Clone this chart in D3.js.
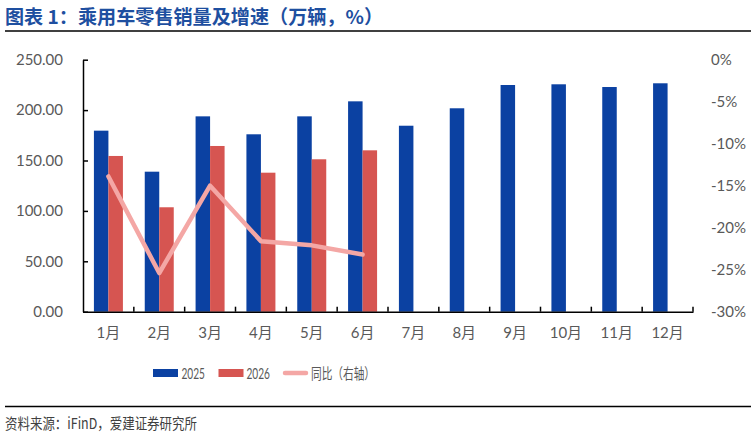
<!DOCTYPE html>
<html>
<head>
<meta charset="utf-8">
<script src="https://cdn.jsdelivr.net/npm/d3@7/dist/d3.min.js"></script>
<style>
  html, body { margin: 0; padding: 0; background: #fff; }
  svg { display: block; }
</style>
</head>
<body>
<svg id="chart" width="751" height="439"></svg>
<script>
// ---- data ----
const months = ["1月","2月","3月","4月","5月","6月","7月","8月","9月","10月","11月","12月"];
const sales2025 = [179.6, 138.9, 193.8, 176.0, 193.8, 208.7, 184.5, 201.8, 224.9, 225.6, 222.9, 226.6];
const sales2026 = [154.5, 103.6, 164.4, 137.9, 151.2, 160.1];
const yoy = [-13.9, -25.4, -15.0, -21.6, -22.1, -23.2];
const leftTicks = [0, 50, 100, 150, 200, 250];
const rightTicks = [0, -5, -10, -15, -20, -25, -30];
const seriesNames = ["2025", "2026", "同比（右轴）"];
const titleText = "图表 1：乘用车零售销量及增速（万辆，%）";
const sourceText = "资料来源：iFinD，爱建证券研究所";

// ---- styles ----
const C_BLUE = "#0B41A2", C_RED = "#D65551", C_LINE = "#F4A7A5";
const AX_TEXT = "#595959";
const FONT = "Lato, 'Noto Sans CJK SC', sans-serif";
const CJK = "'Noto Sans CJK SC', sans-serif";

const svg = d3.select("#chart");
const L = 83, R = 693, T = 59.7, B = 311.7;

const x = d3.scaleBand().domain(months).range([L, R]).padding(0);
const gw = 29;
const x1 = d3.scaleBand().domain(["2025","2026"]).range([-gw/2, gw/2]).padding(0);
const yL = d3.scaleLinear().domain([0, 250]).range([B, T]);
const yR = d3.scaleLinear().domain([-30, 0]).range([B, T]);
const cx = d => x(d) + x.bandwidth() / 2;

// title
svg.append("text").attr("x", 5).attr("y", 24)
  .attr("font-family", CJK).attr("font-weight", "bold")
  .attr("font-size", 19).attr("fill", "#1E4FA0")
  .attr("textLength", 378).attr("lengthAdjust", "spacingAndGlyphs").text(titleText);
svg.append("line").attr("x1", 5).attr("x2", 751).attr("y1", 31).attr("y2", 31)
  .attr("stroke", "#000").attr("stroke-width", 1.5);

// bars
svg.append("g").selectAll("rect").data(sales2025).join("rect")
  .attr("x", (d, i) => cx(months[i]) + x1("2025"))
  .attr("width", x1.bandwidth())
  .attr("y", d => yL(d)).attr("height", d => yL(0) - yL(d))
  .attr("fill", C_BLUE);
svg.append("g").selectAll("rect").data(sales2026).join("rect")
  .attr("x", (d, i) => cx(months[i]) + x1("2026"))
  .attr("width", x1.bandwidth())
  .attr("y", d => yL(d)).attr("height", d => yL(0) - yL(d))
  .attr("fill", C_RED);

// line
const line = d3.line().x((d, i) => cx(months[i])).y(d => yR(d));
svg.append("path").datum(yoy).attr("d", line)
  .attr("fill", "none").attr("stroke", C_LINE).attr("stroke-width", 4.5)
  .attr("stroke-linejoin", "round").attr("stroke-linecap", "round");

// left axis
const gL = svg.append("g").attr("transform", `translate(${L},0)`)
  .call(d3.axisLeft(yL).tickValues(leftTicks).tickSizeInner(-5).tickSizeOuter(0)
    .tickPadding(20).tickFormat(d3.format(".2f")));
gL.select(".domain").attr("stroke", "#000").attr("stroke-width", 1.5);
gL.selectAll(".tick line").attr("stroke", "#000").attr("stroke-width", 1.5);
gL.selectAll("text").attr("font-family", FONT).attr("font-size", 15).attr("fill", AX_TEXT);

// right axis
const gR = svg.append("g").attr("transform", `translate(${R},0)`)
  .call(d3.axisRight(yR).tickValues(rightTicks).tickSize(0).tickPadding(18)
    .tickFormat(d => d + "%"));
gR.select(".domain").remove();
gR.selectAll("text").attr("font-family", FONT).attr("font-size", 15).attr("fill", AX_TEXT);

// bottom axis
const gB = svg.append("g").attr("transform", `translate(0,${B})`)
  .call(d3.axisBottom(x).tickSize(0).tickPadding(16));
gB.select(".domain").attr("stroke", "#000").attr("stroke-width", 1.5);
gB.selectAll("text").attr("font-family", FONT).attr("font-size", 15).attr("fill", AX_TEXT);
const bounds = months.map(m => x(m)).concat([x(months[months.length - 1]) + x.bandwidth()]);
svg.append("g").selectAll("line").data(bounds.slice(1)).join("line")
  .attr("x1", d => d).attr("x2", d => d).attr("y1", B).attr("y2", B - 5)
  .attr("stroke", "#000").attr("stroke-width", 1.5);

// legend
const lg = svg.append("g").attr("font-family", FONT).attr("font-size", 15).attr("fill", AX_TEXT);
lg.append("rect").attr("x", 153).attr("y", 369).attr("width", 25).attr("height", 8).attr("fill", C_BLUE);
lg.append("text").attr("x", 181.5).attr("y", 378.5)
  .attr("textLength", 23.5).attr("lengthAdjust", "spacingAndGlyphs").text(seriesNames[0]);
lg.append("rect").attr("x", 218.5).attr("y", 369).attr("width", 25).attr("height", 8).attr("fill", C_RED);
lg.append("text").attr("x", 246.5).attr("y", 378.5)
  .attr("textLength", 23.5).attr("lengthAdjust", "spacingAndGlyphs").text(seriesNames[1]);
lg.append("line").attr("x1", 285).attr("x2", 306).attr("y1", 373).attr("y2", 373)
  .attr("stroke", C_LINE).attr("stroke-width", 4.5).attr("stroke-linecap", "round");
lg.append("text").attr("x", 311).attr("y", 379)
  .attr("font-family", CJK).attr("font-size", 15)
  .attr("textLength", 64).attr("lengthAdjust", "spacingAndGlyphs").text(seriesNames[2]);

// source
svg.append("line").attr("x1", 5).attr("x2", 751).attr("y1", 406.5).attr("y2", 406.5)
  .attr("stroke", "#000").attr("stroke-width", 1.5);
svg.append("text").attr("x", 5).attr("y", 429)
  .attr("font-family", CJK).attr("font-size", 15)
  .attr("textLength", 192).attr("lengthAdjust", "spacingAndGlyphs")
  .attr("fill", "#404040").text(sourceText);
</script>
</body>
</html>
